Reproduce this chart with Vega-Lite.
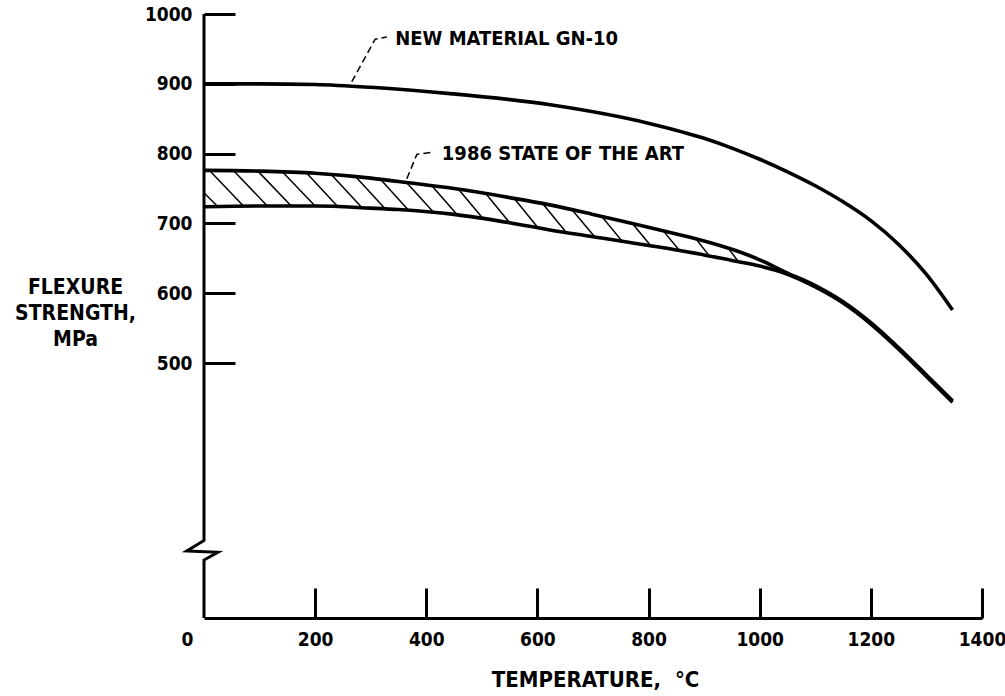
{
  "$schema": "https://vega.github.io/schema/vega-lite/v6.json",
  "width": 778,
  "height": 604,
  "autosize": {"type": "none"},
  "padding": {"left": 204, "top": 14, "right": 23, "bottom": 78},
  "background": "white",
  "config": {
    "view": {"stroke": null},
    "font": "DejaVu Sans Condensed, sans-serif"
  },
  "datasets": {
    "curves": [
      {"s": "new", "T": 0, "V": 900}, {"s": "new", "T": 100, "V": 900}, {"s": "new", "T": 200, "V": 899}, {"s": "new", "T": 300, "V": 895},
      {"s": "new", "T": 443, "V": 886}, {"s": "new", "T": 623, "V": 870}, {"s": "new", "T": 803, "V": 843}, {"s": "new", "T": 900, "V": 822},
      {"s": "new", "T": 950, "V": 808}, {"s": "new", "T": 1000, "V": 792}, {"s": "new", "T": 1050, "V": 774}, {"s": "new", "T": 1100, "V": 754},
      {"s": "new", "T": 1150, "V": 731}, {"s": "new", "T": 1200, "V": 704}, {"s": "new", "T": 1250, "V": 670}, {"s": "new", "T": 1300, "V": 627},
      {"s": "new", "T": 1347, "V": 576},
      {"s": "su", "T": 0, "V": 776}, {"s": "su", "T": 100, "V": 775}, {"s": "su", "T": 200, "V": 772}, {"s": "su", "T": 300, "V": 765},
      {"s": "su", "T": 350, "V": 760}, {"s": "su", "T": 450, "V": 750}, {"s": "su", "T": 550, "V": 737}, {"s": "su", "T": 620, "V": 727},
      {"s": "su", "T": 700, "V": 713}, {"s": "su", "T": 850, "V": 685}, {"s": "su", "T": 900, "V": 675}, {"s": "su", "T": 950, "V": 663},
      {"s": "su", "T": 1000, "V": 648}, {"s": "su", "T": 1044, "V": 631}, {"s": "su", "T": 1100, "V": 611}, {"s": "su", "T": 1150, "V": 588},
      {"s": "su", "T": 1200, "V": 558}, {"s": "su", "T": 1250, "V": 522}, {"s": "su", "T": 1300, "V": 483}, {"s": "su", "T": 1347, "V": 446},
      {"s": "sl", "T": 0, "V": 724}, {"s": "sl", "T": 100, "V": 725}, {"s": "sl", "T": 200, "V": 725}, {"s": "sl", "T": 300, "V": 722},
      {"s": "sl", "T": 350, "V": 720}, {"s": "sl", "T": 450, "V": 713}, {"s": "sl", "T": 550, "V": 701}, {"s": "sl", "T": 620, "V": 691},
      {"s": "sl", "T": 700, "V": 681}, {"s": "sl", "T": 850, "V": 662}, {"s": "sl", "T": 900, "V": 655}, {"s": "sl", "T": 950, "V": 647},
      {"s": "sl", "T": 1000, "V": 639}, {"s": "sl", "T": 1044, "V": 629}, {"s": "sl", "T": 1100, "V": 609}, {"s": "sl", "T": 1150, "V": 586},
      {"s": "sl", "T": 1200, "V": 556}, {"s": "sl", "T": 1250, "V": 520}, {"s": "sl", "T": 1300, "V": 481}, {"s": "sl", "T": 1347, "V": 444}
    ],
    "hatch": [
      {"t1": 0, "v1": 744, "t2": 25, "v2": 724},
      {"t1": 10, "v1": 776, "t2": 71, "v2": 725},
      {"t1": 53, "v1": 776, "t2": 114, "v2": 725},
      {"t1": 97, "v1": 775, "t2": 157, "v2": 725},
      {"t1": 141, "v1": 774, "t2": 200, "v2": 725},
      {"t1": 185, "v1": 772, "t2": 241, "v2": 724},
      {"t1": 229, "v1": 770, "t2": 284, "v2": 723},
      {"t1": 273, "v1": 767, "t2": 326, "v2": 721},
      {"t1": 318, "v1": 763, "t2": 368, "v2": 719},
      {"t1": 364, "v1": 759, "t2": 413, "v2": 716},
      {"t1": 410, "v1": 754, "t2": 456, "v2": 712},
      {"t1": 458, "v1": 749, "t2": 502, "v2": 707},
      {"t1": 507, "v1": 743, "t2": 550, "v2": 701},
      {"t1": 558, "v1": 736, "t2": 601, "v2": 694},
      {"t1": 610, "v1": 728, "t2": 652, "v2": 687},
      {"t1": 663, "v1": 719, "t2": 703, "v2": 681},
      {"t1": 717, "v1": 709, "t2": 753, "v2": 674},
      {"t1": 772, "v1": 699, "t2": 804, "v2": 668},
      {"t1": 828, "v1": 688, "t2": 856, "v2": 661},
      {"t1": 885, "v1": 678, "t2": 909, "v2": 654},
      {"t1": 943, "v1": 665, "t2": 961, "v2": 646}
    ],
    "yaxis": [
      {"o": 1, "T": 0, "V": 1000}, {"o": 2, "T": 0, "V": 246}, {"o": 3, "T": -31, "V": 231},
      {"o": 4, "T": 25, "V": 229}, {"o": 5, "T": 0, "V": 218}, {"o": 6, "T": 0, "V": 135}
    ],
    "leaders": [
      {"s": "new", "o": 1, "T": 266, "V": 903}, {"s": "new", "o": 2, "T": 308, "V": 964}, {"s": "new", "o": 3, "T": 329, "V": 967},
      {"s": "art", "o": 1, "T": 365, "V": 764}, {"s": "art", "o": 2, "T": 383, "V": 799}, {"s": "art", "o": 3, "T": 412, "V": 802}
    ],
    "labels": [
      {"T": 344, "V": 964, "text": "NEW MATERIAL GN-10"},
      {"T": 428, "V": 800, "text": "1986 STATE OF THE ART"}
    ]
  },
  "layer": [
    {
      "data": {"name": "hatch"},
      "mark": {"type": "rule", "color": "black", "strokeWidth": 1.5},
      "encoding": {
        "x": {
          "field": "t1", "type": "quantitative",
          "scale": {"domain": [0, 1400], "nice": false, "zero": false},
          "axis": {
            "values": [0, 200, 400, 600, 800, 1000, 1200, 1400],
            "format": "d",
            "title": "TEMPERATURE,\u00a0\u00a0°C",
            "titleFont": "DejaVu Sans Condensed, sans-serif",
            "titleFontSize": 22, "titleFontWeight": "bold", "titleColor": "black",
            "titleX": 391, "titleY": 68, "titleBaseline": "alphabetic", "titleAnchor": "middle", "titleAlign": "center",
            "domain": true, "domainColor": "black", "domainWidth": 3,
            "ticks": true, "tickColor": "black", "tickWidth": 3, "tickSize": -30,
            "tickOpacity": {"condition": {"test": "datum.value === 0", "value": 0}, "value": 1},
            "grid": false,
            "labelFont": "DejaVu Sans Condensed, sans-serif",
            "labelFontSize": 19, "labelFontWeight": "bold", "labelColor": "black",
            "labelPadding": 42, "labelBaseline": "top",
            "labelOffset": {"condition": {"test": "datum.value === 0", "value": -17}, "value": 0},
            "labelFlush": false, "labelOverlap": false
          }
        },
        "y": {
          "field": "v1", "type": "quantitative",
          "scale": {"domain": [135, 1000], "nice": false, "zero": false},
          "axis": {
            "values": [500, 600, 700, 800, 900, 1000],
            "format": "d",
            "title": ["FLEXURE", "STRENGTH,", "MPa"],
            "titleFont": "DejaVu Sans Condensed, sans-serif",
            "titleFontSize": 21, "titleFontWeight": "bold", "titleColor": "black",
            "titleAngle": 0, "titleX": -129, "titleY": 273, "titleAlign": "center", "titleBaseline": "middle",
            "titleLineHeight": 26,
            "domain": false,
            "ticks": true, "tickColor": "black", "tickWidth": 3, "tickSize": -31,
            "grid": false,
            "labelFont": "DejaVu Sans Condensed, sans-serif",
            "labelFontSize": 19, "labelFontWeight": "bold", "labelColor": "black",
            "labelPadding": 43, "labelAlign": "right", "labelBaseline": "middle",
            "labelFlush": false, "labelOverlap": false
          }
        },
        "x2": {"field": "t2"},
        "y2": {"field": "v2"}
      }
    },
    {
      "data": {"name": "curves"},
      "mark": {"type": "line", "color": "black", "strokeWidth": 3.6, "interpolate": "monotone", "strokeCap": "butt"},
      "encoding": {
        "detail": {"field": "s"},
        "x": {"field": "T", "type": "quantitative", "scale": {"domain": [0, 1400], "nice": false, "zero": false}},
        "y": {"field": "V", "type": "quantitative", "scale": {"domain": [135, 1000], "nice": false, "zero": false}}
      }
    },
    {
      "data": {"name": "yaxis"},
      "mark": {"type": "line", "color": "black", "strokeWidth": 3, "strokeJoin": "miter"},
      "encoding": {
        "order": {"field": "o"},
        "x": {"field": "T", "type": "quantitative", "scale": {"domain": [0, 1400], "nice": false, "zero": false}},
        "y": {"field": "V", "type": "quantitative", "scale": {"domain": [135, 1000], "nice": false, "zero": false}}
      }
    },
    {
      "data": {"name": "leaders"},
      "mark": {"type": "line", "color": "black", "strokeWidth": 1.5, "strokeDash": [7, 4]},
      "encoding": {
        "detail": {"field": "s"},
        "order": {"field": "o"},
        "x": {"field": "T", "type": "quantitative", "scale": {"domain": [0, 1400], "nice": false, "zero": false}},
        "y": {"field": "V", "type": "quantitative", "scale": {"domain": [135, 1000], "nice": false, "zero": false}}
      }
    },
    {
      "data": {"name": "labels"},
      "mark": {"type": "text", "align": "left", "baseline": "middle", "fontSize": 20, "fontWeight": "bold", "color": "black", "font": "DejaVu Sans Condensed, sans-serif"},
      "encoding": {
        "text": {"field": "text"},
        "x": {"field": "T", "type": "quantitative", "scale": {"domain": [0, 1400], "nice": false, "zero": false}},
        "y": {"field": "V", "type": "quantitative", "scale": {"domain": [135, 1000], "nice": false, "zero": false}}
      }
    }
  ]
}
